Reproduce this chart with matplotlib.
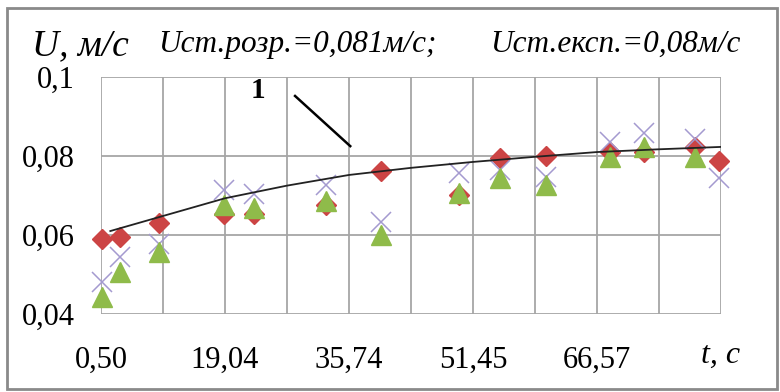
import matplotlib.pyplot as plt
from matplotlib.patches import Rectangle

# positions along the (uneven) time axis, in grid-cell units
t_pos = [0.02, 0.30, 0.93, 1.98, 2.46, 3.63, 4.52, 5.77, 6.43, 7.18, 8.21, 8.76, 9.58, 9.97]
u_rozr = [0.0590, 0.0594, 0.0630, 0.0652, 0.0653, 0.0676, 0.0763, 0.0701, 0.0794, 0.0800, 0.0811, 0.0811, 0.0822, 0.0788]
u_exp1 = [0.0480, 0.0544, 0.0577, 0.0714, 0.0705, 0.0727, 0.0634, 0.0756, 0.0765, 0.0748, 0.0836, 0.0857, 0.0842, 0.0744]
u_exp2 = [0.0444, 0.0507, 0.0558, 0.0676, 0.0668, 0.0687, 0.0600, 0.0707, 0.0744, 0.0727, 0.0798, 0.0824, 0.0798, float('nan')]

# fitted curve
curve_t = [0.15, 0.93, 2.0, 3.0, 4.0, 5.0, 6.0, 7.0, 8.0, 9.0, 10.0]
curve_u = [0.0610, 0.0645, 0.0693, 0.0725, 0.0752, 0.0770, 0.0785, 0.0798, 0.0810, 0.0817, 0.0823]

tick_pos = [0, 2, 4, 6, 8]
tick_labels = ['0,50', '19,04', '35,74', '51,45', '66,57']
y_ticks = [0.04, 0.06, 0.08, 0.1]
y_labels = ['0,04', '0,06', '0,08', '0,1']

plt.rcParams['font.family'] = ['Liberation Serif', 'DejaVu Serif']

fig = plt.figure(figsize=(7.8, 3.92), dpi=100)
ax = fig.add_axes([101 / 780, 1 - 314 / 392, 620 / 780, 237 / 392])

grid_c = '#a6a6a6'
for x in range(11):
    ax.axvline(x, color=grid_c, lw=1.3, zorder=1)
for y in y_ticks:
    ax.axhline(y, color=grid_c, lw=1.3, zorder=1)

ax.plot(t_pos, u_rozr, ls='none', marker='D', ms=10.5, color='#cc4444', zorder=3, clip_on=False)
ax.plot(t_pos, u_exp1, ls='none', marker='x', ms=15, mew=1.1, color='#a49ad0', zorder=4, clip_on=False)
ax.plot(t_pos, u_exp2, ls='none', marker='^', ms=14, color='#8fbb4a', zorder=5, clip_on=False)
ax.plot(curve_t, curve_u, color='#222222', lw=1.3, zorder=6)

# pointer for curve 1
ax.plot([3.13, 4.02], [0.0952, 0.0825], color='black', lw=1.8, zorder=6, clip_on=False)
ax.text(2.53, 0.0965, '1', fontsize=21, fontweight='bold', ha='center', va='center')

ax.set_xlim(0, 10)
ax.set_ylim(0.04, 0.1)
ax.set_xticks(tick_pos)
ax.set_xticklabels(tick_labels, fontsize=22)
ax.set_yticks(y_ticks)
ax.set_yticklabels(y_labels, fontsize=22)
ax.tick_params(length=0)
ax.tick_params(axis='y', pad=19)
ax.tick_params(axis='x', pad=23)
for s in ax.spines.values():
    s.set_visible(False)

ax.text(10, 0.04 - 0.0105, 't, с', fontsize=23, style='italic', ha='center', va='center')

fig.text(32 / 780, 1 - 55 / 392, 'U, м/с', fontsize=27, style='italic', ha='left', va='baseline')
fig.text(158 / 780, 1 - 52 / 392, 'Uст.розр.=0,081м/с;', fontsize=22.5, style='italic', ha='left', va='baseline')
fig.text(490 / 780, 1 - 52 / 392, 'Uст.експ.=0,08м/с', fontsize=22.5, style='italic', ha='left', va='baseline')

fig.patches.append(Rectangle((7 / 780, 3 / 392), 770 / 780, 381 / 392, transform=fig.transFigure,
                             fill=False, edgecolor='#8a8a8a', lw=2))

fig.savefig('out.png', dpi=100)
